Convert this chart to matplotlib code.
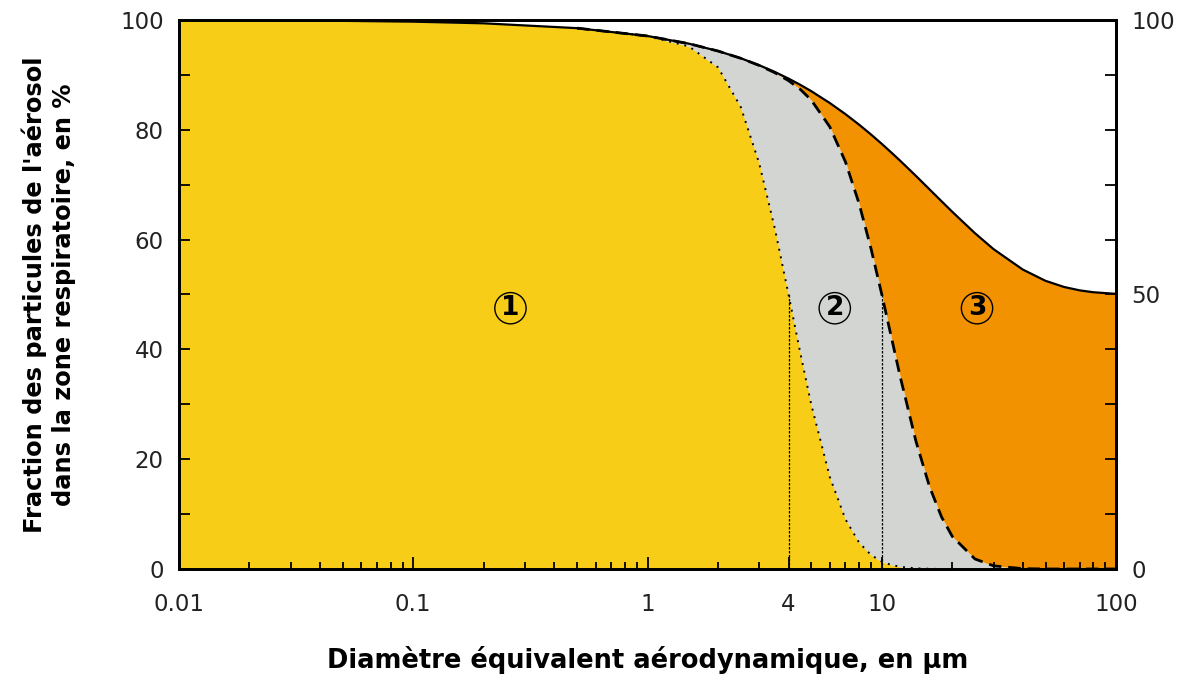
import matplotlib
matplotlib.use('Agg')
import matplotlib.pyplot as plt
import numpy as np

# diametre aerodynamique (um)
diam = [0.01, 0.02, 0.05, 0.1, 0.2, 0.5, 1, 1.5, 2, 2.5, 3, 3.5, 4, 4.5, 5,
        6, 7, 8, 9, 10, 11, 12, 14, 16, 18, 20, 25, 30, 40, 50, 60, 70, 80, 100]
# fraction inhalable (trait plein)
inhalable = [99.97, 99.94, 99.85, 99.70, 99.40, 98.52, 97.09, 95.70, 94.35, 93.04,
             91.76, 90.53, 89.33, 88.17, 87.04, 84.88, 82.85, 80.94, 79.14, 77.44,
             75.84, 74.34, 71.59, 69.14, 66.98, 65.06, 61.16, 58.26, 54.54, 52.49,
             51.37, 50.75, 50.41, 50.12]
# fraction thoracique (tirets)
thoracique = [99.97, 99.94, 99.85, 99.70, 99.40, 98.52, 97.09, 95.70, 94.35, 93.03,
              91.72, 90.39, 88.96, 87.33, 85.42, 80.54, 74.15, 66.57, 58.33, 50.03,
              42.13, 34.94, 23.23, 14.95, 9.46, 5.92, 1.82, 0.57, 0.06, 0,
              0, 0, 0, 0]
# fraction alveolaire (pointilles)
alveolaire = [99.97, 99.94, 99.85, 99.70, 99.40, 98.52, 97.07, 95.21, 91.38, 84.17,
              73.85, 61.92, 49.98, 39.15, 29.96, 16.76, 9.05, 4.81, 2.55, 1.35,
              0.72, 0.39, 0.12, 0.03, 0, 0, 0, 0, 0, 0,
              0, 0, 0, 0]

xticks = [0.01, 0.1, 1, 4, 10, 100]
xlabels = ['0.01', '0.1', '1', '4', '10', '100']
zones = ['1', '2', '3']
zone_x = [0.26, 6.3, 25.5]
zone_y = 47.5

plt.rcParams['font.family'] = ['DejaVu Sans']

d = np.array(diam)
I = np.array(inhalable)
T = np.array(thoracique)
R = np.array(alveolaire)

fig = plt.figure(figsize=(11.79, 6.81), dpi=100)
ax = fig.add_axes([0.1518, 0.1645, 0.7948, 0.8061])
ax.set_xscale('log')
ax.set_xlim(0.01, 100)
ax.set_ylim(0, 100)

ax.fill_between(d, 0, R, color='#f7cd18', lw=0)
ax.fill_between(d, R, T, color='#d2d5d2', lw=0)
ax.fill_between(d, T, I, color='#f29200', lw=0)

ax.plot(d, I, color='black', lw=1.6)
ax.plot(d[5:], T[5:], color='black', lw=2, dashes=(4.5, 2.5))
ax.plot(d[5:], R[5:], color='black', lw=1.4, ls=(0, (1, 3)))

# reperes a 4 et 10 um
ax.plot([4, 4], [0, 50], color='black', lw=0.9, dashes=(2, 1.2))
ax.plot([10, 10], [0, 50], color='black', lw=0.9, dashes=(2, 1.2))

for z, zx in zip(zones, zone_x):
    ax.text(zx, zone_y, z, ha='center', va='center', fontsize=19, fontweight='bold',
            bbox=dict(boxstyle='circle,pad=0.1', fc='none', ec='black', lw=1))

ax.set_xticks(xticks)
ax.set_xticklabels(xlabels)
ax.set_yticks(np.arange(0, 101, 20))
ax.set_yticks(np.arange(10, 100, 20), minor=True)
ax.tick_params(which='both', direction='in', labelsize=16.5, labelcolor='#222222',
               width=1.3, top=False)
ax.tick_params(axis='x', which='major', length=9, pad=17)
ax.tick_params(axis='x', which='minor', length=5)
ax.tick_params(axis='y', which='both', length=8, pad=11)

for s in ax.spines.values():
    s.set_linewidth(2)

ax2 = ax.twinx()
ax2.set_ylim(0, 100)
ax2.set_yticks([0, 50, 100])
ax2.set_yticks(np.arange(10, 100, 10), minor=True)
ax2.tick_params(which='both', direction='in', length=8, width=1.3, labelsize=16.5,
                labelcolor='#222222', pad=11)
for s in ax2.spines.values():
    s.set_linewidth(2)

ax.set_xlabel('Diamètre équivalent aérodynamique, en µm', fontsize=18.5,
              fontweight='bold', labelpad=22)
ax.set_ylabel("Fraction des particules de l'aérosol\ndans la zone respiratoire, en %",
              fontsize=17.4, fontweight='bold', labelpad=32, linespacing=1.25)

fig.savefig('out.png', dpi=100)
